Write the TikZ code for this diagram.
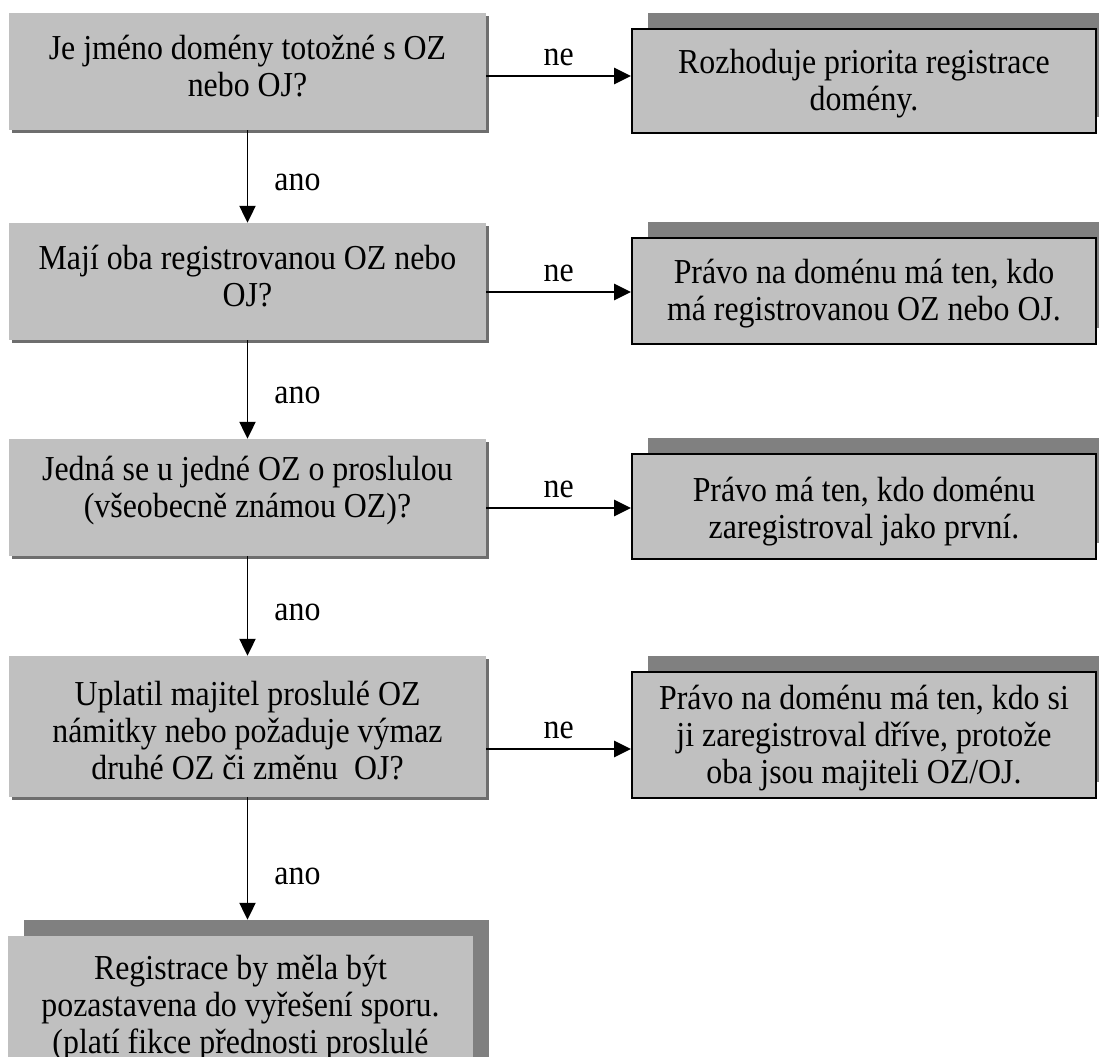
\documentclass[tikz,border=0pt]{standalone}
\usepackage{fontspec}
\setmainfont{Liberation Serif}[FakeStretch=0.91]
\usetikzlibrary{positioning,shadows,arrows.meta}
\definecolor{vyplnseda}{HTML}{C0C0C0}
\definecolor{stintmava}{HTML}{6E6E6E}
\definecolor{stinseda}{HTML}{808080}
\tikzset{
  pismo/.style={font=\fontsize{24.9pt}{26.3pt}\selectfont},
  otazka/.style={fill=vyplnseda, inner sep=0pt, minimum width=11.925cm,
    drop shadow={shadow xshift=0.08cm, shadow yshift=-0.08cm, opacity=1, fill=stintmava}},
  vysledek/.style={fill=vyplnseda, inner sep=0pt,
    drop shadow={shadow xshift=0.39cm, shadow yshift=0.4cm, opacity=1, fill=stinseda}},
  odpoved/.style={vysledek, draw=black, line width=1.3pt, minimum width=11.6cm},
  popis/.style={pismo, align=center, inner sep=0pt},
  stitek/.style={pismo, inner sep=0pt},
  sipka/.style={line width=1.4pt, -{Triangle[length=0.42cm, width=0.4cm]}}
}
\begin{document}
\begin{tikzpicture}[x=0.025cm, y=-0.025cm]
  \useasboundingbox (0,0) rectangle (1099,1057);
  \clip (0,0) rectangle (1099,1057);

  % otázky vlevo
  \node[otazka, minimum height=2.925cm] (q1) at (247.5,71.5) {};
  \node[otazka, minimum height=2.925cm] (q2) at (247.5,281.5) {};
  \node[otazka, minimum height=2.925cm] (q3) at (247.5,497.5) {};
  \node[otazka, minimum height=3.525cm] (q4) at (247.5,726.5) {};
  \node[vysledek, minimum width=11.625cm, minimum height=3.75cm] (q5) at (240.5,1011) {};

  % odpovědi vpravo
  \node[odpoved, minimum height=2.6cm] (r1) at (864,81) {};
  \node[odpoved, minimum height=2.65cm] (r2) at (864,291) {};
  \node[odpoved, minimum height=2.625cm] (r3) at (864,506.5) {};
  \node[odpoved, minimum height=3.15cm] (r4) at (864,735) {};

  % texty v rámečcích
  \node[popis, below=0.55cm of q1.north] (q1t) {Je jméno domény totožné s OZ\\ nebo OJ?};
  \node[popis, below=0.55cm of q2.north] (q2t) {Mají oba registrovanou OZ nebo\\ OJ?};
  \node[popis, below=0.43cm of q3.north] (q3t) {Jedná se u jedné OZ o proslulou\\ (všeobecně známou OZ)?};
  \node[popis, below=0.62cm of q4.north] (q4t) {Uplatil majitel proslulé OZ\\ námitky nebo požaduje výmaz\\ druhé OZ či změnu\ \ OJ?};
  \node[popis, below=0.48cm of q5.north] (q5t) {Registrace by měla být\\ pozastavena do vyřešení sporu.\\ (platí fikce přednosti proslulé};
  \node[popis, below=0.52cm of r1.north] (r1t) {Rozhoduje priorita registrace\\ domény.};
  \node[popis, below=0.55cm of r2.north] (r2t) {Právo na doménu má ten, kdo\\ má registrovanou OZ nebo OJ.};
  \node[popis, below=0.6cm of r3.north] (r3t) {Právo má ten, kdo doménu\\ zaregistroval jako první.};
  \node[popis, below=0.35cm of r4.north] (r4t) {Právo na doménu má ten, kdo si\\ ji zaregistroval dříve, protože\\ oba jsou majiteli OZ/OJ.};

  % šipky ne
  \foreach \i/\y in {1/76,2/292,3/508,4/749} {
    \coordinate (v\i) at (0,\y);
    \draw[sipka] (q\i.east |- v\i) -- (r\i.west |- v\i)
      node[stitek, midway, above=0.22cm] (ne\i) {ne};
  }

  % šipky ano
  \foreach \i/\j in {1/2,2/3,3/4} {
    \draw[sipka] (q\i.south) -- (q\j.north)
      node[stitek, pos=0.56, right=0.65cm] (ano\i) {ano};
  }
  \coordinate (c5) at ([yshift=0.4cm]q5.north);
  \draw[sipka] (q4.south) -- (q4.south |- c5)
    node[stitek, pos=0.65, right=0.65cm] (ano4) {ano};
\end{tikzpicture}
\end{document}
